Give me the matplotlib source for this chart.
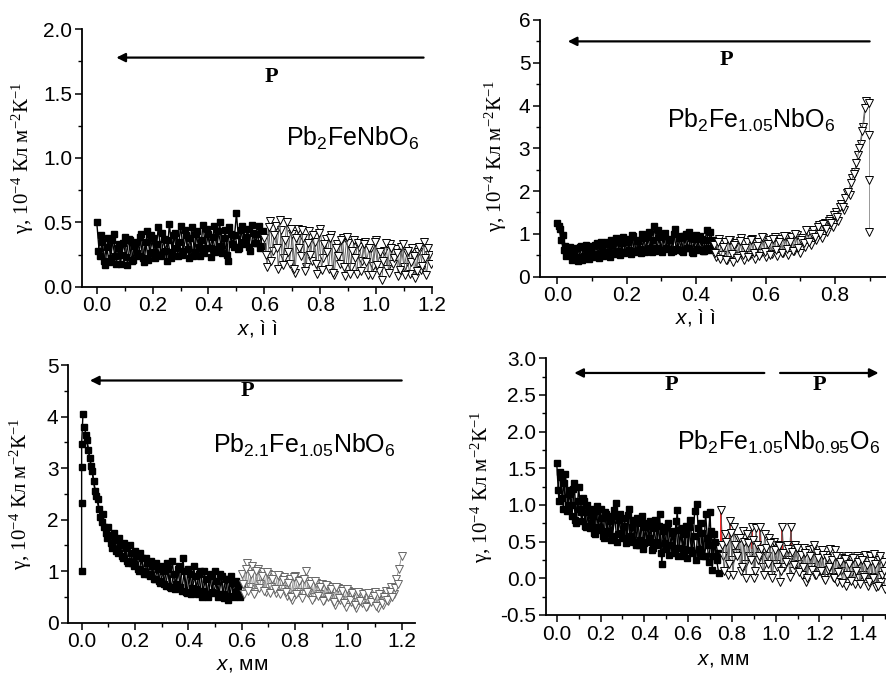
import numpy as np
import matplotlib
matplotlib.use("Agg")
import matplotlib.pyplot as plt
from matplotlib.ticker import MultipleLocator, FormatStrFormatter

plt.rcParams['font.family'] = ['Liberation Sans', 'DejaVu Sans']
plt.rcParams['mathtext.fontset'] = 'custom'
plt.rcParams['mathtext.rm'] = 'Liberation Serif'
plt.rcParams['mathtext.it'] = 'Liberation Sans:italic'
plt.rcParams['mathtext.sf'] = 'Liberation Sans'
plt.rcParams['axes.unicode_minus'] = False

# ---- panel 1: Pb2FeNbO6 ----
# two passes of the scan, interleaved in x
sq1_x = np.linspace(0.0, 0.59, 60)
sq1_y = [0.50, 0.24, 0.35, 0.17, 0.38, 0.22, 0.41, 0.18, 0.33, 0.25,
         0.39, 0.17, 0.36, 0.21, 0.35, 0.24, 0.41, 0.19, 0.43, 0.26,
         0.38, 0.22, 0.46, 0.25, 0.37, 0.20, 0.49, 0.27, 0.42, 0.24,
         0.47, 0.28, 0.40, 0.22, 0.46, 0.27, 0.43, 0.24, 0.48, 0.30,
         0.41, 0.23, 0.47, 0.29, 0.50, 0.26, 0.44, 0.20, 0.41, 0.31,
         0.57, 0.30, 0.47, 0.33, 0.45, 0.28, 0.42, 0.34, 0.47, 0.32]
sq1b_x = np.linspace(0.005, 0.595, 60)
sq1b_y = [0.28, 0.40, 0.20, 0.31, 0.19, 0.36, 0.24, 0.30, 0.18, 0.34,
          0.23, 0.37, 0.20, 0.32, 0.26, 0.39, 0.22, 0.35, 0.21, 0.40,
          0.27, 0.33, 0.24, 0.42, 0.28, 0.36, 0.22, 0.40, 0.30, 0.35,
          0.25, 0.44, 0.29, 0.38, 0.24, 0.41, 0.31, 0.36, 0.26, 0.45,
          0.30, 0.39, 0.27, 0.43, 0.32, 0.38, 0.25, 0.46, 0.33, 0.40,
          0.29, 0.44, 0.35, 0.39, 0.31, 0.48, 0.34, 0.41, 0.30, 0.43]
tr1_x = np.linspace(0.60, 1.19, 60)
tr1_y = [0.38, 0.15, 0.51, 0.28, 0.47, 0.14, 0.44, 0.22, 0.50, 0.18,
         0.41, 0.11, 0.45, 0.24, 0.38, 0.15, 0.43, 0.20, 0.35, 0.10,
         0.45, 0.22, 0.37, 0.14, 0.40, 0.09, 0.33, 0.18, 0.38, 0.08,
         0.34, 0.15, 0.36, 0.10, 0.31, 0.20, 0.35, 0.09, 0.30, 0.16,
         0.36, 0.12, 0.05, 0.28, 0.14, 0.33, 0.18, 0.29, 0.08, 0.31,
         0.15, 0.26, 0.10, 0.30, 0.07, 0.27, 0.13, 0.35, 0.09, 0.25]
tr1b_x = np.linspace(0.605, 1.195, 60)
tr1b_y = [0.25, 0.46, 0.20, 0.40, 0.30, 0.52, 0.17, 0.36, 0.27, 0.45,
          0.14, 0.38, 0.30, 0.44, 0.12, 0.34, 0.25, 0.40, 0.18, 0.42,
          0.13, 0.33, 0.27, 0.38, 0.11, 0.30, 0.24, 0.36, 0.15, 0.39,
          0.10, 0.28, 0.22, 0.34, 0.12, 0.33, 0.19, 0.30, 0.09, 0.35,
          0.17, 0.27, 0.20, 0.34, 0.11, 0.30, 0.22, 0.26, 0.13, 0.33,
          0.09, 0.28, 0.19, 0.24, 0.12, 0.31, 0.16, 0.22, 0.30, 0.18]

# ---- panel 2: Pb2Fe1.05NbO6 ----
sq2_x = np.linspace(0.0, 0.445, 60)
sq2_y = [1.25, 1.12, 0.98, 0.72, 0.55, 0.70, 0.45, 0.68, 0.36, 0.72,
         0.48, 0.75, 0.42, 0.66, 0.50, 0.78, 0.44, 0.70, 0.52, 0.80,
         0.47, 0.74, 0.55, 0.85, 0.50, 0.92, 0.57, 0.80, 0.53, 0.95,
         0.60, 0.84, 0.56, 0.90, 0.62, 1.05, 0.58, 1.18, 0.66, 0.92,
         0.57, 1.02, 0.64, 0.88, 0.60, 1.12, 0.63, 0.95, 0.58, 1.00,
         0.66, 0.90, 0.56, 0.98, 0.62, 0.87, 0.59, 1.10, 0.63, 0.85]
sq2b_x = np.linspace(0.0037, 0.4487, 60)
sq2b_y = [1.18, 0.85, 0.62, 0.48, 0.65, 0.38, 0.60, 0.45, 0.70, 0.40,
          0.66, 0.52, 0.72, 0.46, 0.74, 0.54, 0.82, 0.49, 0.76, 0.58,
          0.86, 0.52, 0.90, 0.60, 0.78, 0.55, 0.88, 0.62, 0.98, 0.57,
          0.86, 0.64, 1.00, 0.58, 0.92, 0.66, 0.85, 0.60, 1.08, 0.63,
          0.94, 0.68, 0.86, 0.58, 1.00, 0.65, 0.90, 0.60, 0.96, 0.68,
          1.05, 0.57, 0.88, 0.64, 0.95, 0.60, 0.86, 0.66, 1.05, 0.70]
tr2_x = np.linspace(0.45, 0.89, 56)
tr2_y = [0.75, 0.45, 0.88, 0.50, 0.80, 0.40, 0.85, 0.35, 0.78, 0.48,
         0.90, 0.40, 0.82, 0.50, 0.88, 0.42, 0.80, 0.55, 0.90, 0.45,
         0.85, 0.52, 0.93, 0.48, 0.88, 0.55, 0.95, 0.50, 0.92, 0.60,
         0.98, 0.55, 0.90, 0.70, 1.05, 0.75, 1.10, 0.85, 1.20, 0.90,
         1.25, 1.05, 1.35, 1.15, 1.50, 1.30, 1.70, 1.55, 1.95, 1.90,
         2.30, 2.45, 2.85, 3.10, 3.50, 4.10]
tr2b_x = np.linspace(0.454, 0.886, 55)
tr2b_y = [0.55, 0.82, 0.42, 0.70, 0.38, 0.86, 0.52, 0.75, 0.44, 0.83,
          0.50, 0.68, 0.45, 0.86, 0.55, 0.72, 0.48, 0.92, 0.58, 0.76,
          0.50, 0.88, 0.62, 0.80, 0.55, 0.96, 0.65, 0.82, 0.60, 1.00,
          0.68, 0.85, 0.78, 1.08, 0.82, 1.00, 0.92, 1.15, 1.00, 1.22,
          1.12, 1.30, 1.25, 1.45, 1.40, 1.62, 1.62, 1.85, 1.98, 2.20,
          2.40, 2.65, 3.00, 3.40, 3.95]
tr2_tail_x = [0.897, 0.897, 0.897, 0.897]
tr2_tail_y = [4.05, 3.30, 2.25, 1.05]

# ---- panel 3: Pb2.1Fe1.05NbO6 ----
sq3_head_x = [0.0, 0.0, 0.0, 0.0, 0.005]
sq3_head_y = [1.00, 2.33, 3.03, 3.47, 4.05]
sq3_x = np.linspace(0.01, 0.60, 60)
sq3_y = [3.80, 3.55, 3.20, 2.95, 2.55, 2.40, 2.05, 2.10, 1.75, 1.85,
         1.55, 1.75, 1.40, 1.65, 1.30, 1.55, 1.20, 1.50, 1.15, 1.40,
         1.05, 1.35, 1.00, 1.25, 0.95, 1.20, 0.85, 1.15, 0.80, 1.10,
         0.75, 1.15, 0.70, 1.20, 0.65, 1.05, 0.70, 1.25, 0.60, 1.05,
         0.55, 1.10, 0.65, 0.95, 0.50, 1.00, 0.55, 0.90, 0.60, 1.00,
         0.50, 0.95, 0.55, 0.85, 0.45, 0.90, 0.50, 0.80, 0.55, 0.75]
sq3b_x = np.linspace(0.015, 0.595, 59)
sq3b_y = [3.65, 3.35, 3.05, 2.75, 2.45, 2.20, 1.95, 1.85, 1.65, 1.70,
          1.45, 1.60, 1.35, 1.50, 1.25, 1.45, 1.15, 1.35, 1.10, 1.30,
          1.00, 1.25, 0.95, 1.15, 0.90, 1.10, 0.85, 1.05, 0.78, 1.00,
          0.72, 1.05, 0.68, 0.95, 0.75, 1.10, 0.62, 1.00, 0.58, 0.95,
          0.68, 0.90, 0.55, 1.00, 0.62, 0.85, 0.50, 0.95, 0.58, 0.80,
          0.55, 0.90, 0.48, 0.85, 0.52, 0.78, 0.60, 0.72, 0.50]
tr3_x = np.linspace(0.60, 1.20, 61)
tr3_y = [0.95, 0.55, 1.15, 0.70, 1.10, 0.60, 1.05, 0.75, 0.98, 0.60,
         0.95, 0.70, 0.92, 0.58, 0.90, 0.65, 0.88, 0.52, 0.85, 0.45,
         0.90, 0.60, 0.82, 0.55, 1.00, 0.58, 0.80, 0.50, 0.78, 0.55,
         0.75, 0.45, 0.72, 0.52, 0.70, 0.35, 0.68, 0.45, 0.65, 0.30,
         0.62, 0.40, 0.60, 0.28, 0.58, 0.38, 0.55, 0.32, 0.52, 0.45,
         0.60, 0.28, 0.55, 0.35, 0.62, 0.42, 0.70, 0.55, 0.85, 1.05,
         1.30]
tr3b_x = np.linspace(0.605, 1.185, 59)
tr3b_y = [0.75, 1.05, 0.62, 0.95, 0.55, 1.00, 0.68, 0.90, 0.62, 0.98,
          0.58, 0.85, 0.65, 0.92, 0.55, 0.82, 0.60, 0.78, 0.50, 0.88,
          0.55, 0.80, 0.48, 0.85, 0.60, 0.75, 0.45, 0.80, 0.52, 0.70,
          0.42, 0.74, 0.50, 0.66, 0.40, 0.70, 0.48, 0.62, 0.38, 0.66,
          0.45, 0.58, 0.35, 0.60, 0.42, 0.55, 0.30, 0.58, 0.40, 0.52,
          0.32, 0.56, 0.38, 0.50, 0.45, 0.60, 0.50, 0.68, 0.75]

# ---- panel 4: Pb2Fe1.05Nb0.95O6 ----
sq4_x = np.linspace(0.0, 0.74, 75)
sq4_y = [1.57, 1.05, 1.38, 0.95, 1.42, 1.00, 1.20, 0.85, 1.30, 0.75,
         1.25, 0.90, 1.10, 0.72, 1.00, 0.68, 0.95, 0.62, 0.92, 0.70,
         0.95, 0.58, 0.90, 0.65, 0.85, 0.52, 0.93, 1.03, 0.60, 0.88,
         0.55, 0.82, 0.50, 0.95, 0.58, 0.80, 0.45, 0.78, 0.52, 0.85,
         0.48, 0.75, 0.55, 0.72, 0.42, 0.80, 0.50, 0.88, 0.20, 0.70,
         0.40, 0.75, 0.45, 0.65, 0.35, 0.93, 0.42, 0.68, 0.30, 0.72,
         0.38, 0.80, 0.35, 0.92, 1.02, 0.40, 0.75, 0.30, 0.88, 0.45,
         0.90, 0.12, 0.60, 0.25, 0.07]
sq4b_x = np.linspace(0.005, 0.735, 74)
sq4b_y = [1.20, 1.45, 1.10, 1.30, 0.92, 1.15, 1.00, 1.22, 0.80, 1.05,
          0.95, 0.78, 1.05, 0.70, 0.90, 0.75, 0.85, 0.60, 0.98, 0.66,
          0.82, 0.55, 0.88, 0.62, 0.78, 0.58, 0.85, 0.50, 0.80, 0.62,
          0.72, 0.48, 0.86, 0.55, 0.70, 0.50, 0.82, 0.45, 0.75, 0.40,
          0.70, 0.50, 0.78, 0.38, 0.68, 0.45, 0.72, 0.35, 0.65, 0.48,
          0.70, 0.32, 0.62, 0.42, 0.78, 0.30, 0.66, 0.40, 0.60, 0.28,
          0.70, 0.38, 0.58, 0.25, 0.68, 0.35, 0.62, 0.30, 0.55, 0.22,
          0.65, 0.30, 0.50, 0.35]
tr4_x = np.linspace(0.75, 1.50, 76)
tr4_y = [0.93, 0.30, 0.60, 0.05, 0.78, 0.25, 0.70, 0.35, 0.55, 0.10,
         0.65, 0.20, 0.60, 0.30, 0.70, 0.00, 0.68, 0.25, 0.70, 0.15,
         0.60, 0.30, 0.55, 0.05, 0.50, 0.20, 0.45, -0.05, 0.70, 0.15,
         0.45, 0.25, 0.70, 0.10, 0.45, 0.20, 0.40, 0.05, 0.42, -0.05,
         0.38, 0.15, 0.40, 0.05, 0.35, 0.10, 0.38, 0.00, 0.32, 0.12,
         0.40, 0.02, 0.38, -0.05, 0.30, 0.10, 0.28, -0.10, 0.30, 0.05,
         0.25, -0.08, 0.30, 0.00, 0.28, 0.05, 0.32, -0.10, 0.30, 0.02,
         0.33, -0.12, 0.25, -0.05, 0.22, -0.15]
tr4b_x = np.linspace(0.755, 1.495, 75)
tr4b_y = [0.45, 0.10, 0.50, 0.20, 0.62, 0.05, 0.45, 0.30, 0.55, 0.15,
          0.50, 0.00, 0.48, 0.25, 0.52, 0.10, 0.45, 0.30, 0.40, 0.05,
          0.42, 0.20, 0.48, 0.00, 0.38, 0.15, 0.44, 0.10, 0.35, 0.22,
          0.40, 0.02, 0.36, 0.18, 0.42, 0.08, 0.32, 0.15, 0.35, 0.00,
          0.30, 0.12, 0.45, 0.05, 0.28, 0.10, 0.32, -0.02, 0.28, 0.15,
          0.25, 0.00, 0.30, 0.08, 0.22, -0.06, 0.26, 0.05, 0.20, -0.04,
          0.28, 0.10, 0.22, -0.08, 0.25, 0.02, 0.18, -0.05, 0.24, 0.00,
          0.20, -0.10, 0.30, 0.05, 0.10]
# red error bars on a few triangles
err4_x = [0.75, 0.79, 0.89, 0.93, 1.03, 1.07]
err4_top = [0.93, 0.78, 0.70, 0.70, 0.70, 0.70]
err4_len = [0.45, 0.25, 0.30, 0.25, 0.30, 0.30]


def draw_panel(ax, xlim, ylim, ymajor, yfmt):
    ax.set_xlim(*xlim)
    ax.set_ylim(*ylim)
    ax.spines['top'].set_visible(False)
    ax.spines['right'].set_visible(False)
    for s in ['left', 'bottom']:
        ax.spines[s].set_linewidth(1.3)
    ax.xaxis.set_major_locator(MultipleLocator(0.2))
    ax.xaxis.set_minor_locator(MultipleLocator(0.1))
    ax.xaxis.set_major_formatter(FormatStrFormatter('%.1f'))
    ax.yaxis.set_major_locator(MultipleLocator(ymajor))
    ax.yaxis.set_minor_locator(MultipleLocator(ymajor / 2))
    ax.yaxis.set_major_formatter(FormatStrFormatter(yfmt))
    ax.tick_params(which='major', direction='out', length=5, width=1.1,
                   labelsize=15, pad=2)
    ax.tick_params(which='minor', direction='out', length=3, width=1.0)
    ax.set_ylabel('γ, 10$^{-4}$ Кл м$^{-2}$К$^{-1}$',
                  family=['Liberation Serif', 'DejaVu Serif'], fontsize=15)


def squares(ax, x, y):
    ax.plot(x, y, '-s', color='black', lw=1.0, ms=4.2, mfc='black',
            mec='black', zorder=3)


def triangles(ax, x, y, edge='black', line='#555555'):
    ax.plot(x, y, '-v', color=line, lw=0.6, ms=5.5, mfc='white',
            mec=edge, mew=0.7, zorder=4)


def arrow(ax, x0, x1, y):
    ax.annotate('', xy=(x1, y), xytext=(x0, y),
                arrowprops=dict(arrowstyle='-|>', color='black', lw=1.6,
                                mutation_scale=13, shrinkA=0, shrinkB=0))


def ptext(ax, x, y):
    ax.text(x, y, 'P', family='Liberation Serif', weight='bold',
            fontsize=16, ha='center', va='center')


fig = plt.figure(figsize=(8.87, 6.73), dpi=100)

# panel 1
ax1 = fig.add_axes([0.0924, 0.574, 0.3946, 0.3825])
draw_panel(ax1, (-0.053, 1.2), (0, 2.0), 0.5, '%.1f')
squares(ax1, sq1_x, sq1_y)
squares(ax1, sq1b_x, sq1b_y)
triangles(ax1, tr1_x, tr1_y)
triangles(ax1, tr1b_x, tr1b_y)
arrow(ax1, 1.17, 0.07, 1.78)
ptext(ax1, 0.625, 1.63)
ax1.text(0.677, 1.15, 'Pb$_\\mathsf{2}$FeNbO$_\\mathsf{6}$', fontsize=18,
         va='center')
ax1.set_xlabel('$\\mathit{x}$, ì ì', fontsize=15)
ax1.xaxis.set_label_coords(0.5, -0.12)
ax1.yaxis.set_label_coords(-0.13, 0.5)

# panel 2
ax2 = fig.add_axes([0.6088, 0.5889, 0.3912, 0.3814])
draw_panel(ax2, (-0.05, 0.95), (0, 6), 1, '%d')
squares(ax2, sq2_x, sq2_y)
squares(ax2, sq2b_x, sq2b_y)
triangles(ax2, tr2_x, tr2_y)
triangles(ax2, tr2b_x, tr2b_y)
triangles(ax2, tr2_tail_x, tr2_tail_y, line='#888888')
arrow(ax2, 0.90, 0.03, 5.5)
ptext(ax2, 0.487, 5.06)
ax2.text(0.315, 3.66, 'Pb$_\\mathsf{2}$Fe$_\\mathsf{1.05}$NbO$_\\mathsf{6}$',
         fontsize=18, va='center')
ax2.set_xlabel('$\\mathit{x}$, ì ì', fontsize=15)
ax2.xaxis.set_label_coords(0.447, -0.12)
ax2.yaxis.set_label_coords(-0.09, 0.47)

# panel 3
ax3 = fig.add_axes([0.0770, 0.0747, 0.3909, 0.3829])
draw_panel(ax3, (-0.05, 1.25), (0, 5), 1, '%d')
squares(ax3, sq3_head_x, sq3_head_y)
squares(ax3, sq3_x, sq3_y)
squares(ax3, sq3b_x, sq3b_y)
triangles(ax3, tr3_x, tr3_y, edge='#666666', line='#888888')
triangles(ax3, tr3b_x, tr3b_y, edge='#666666', line='#888888')
arrow(ax3, 1.2, 0.031, 4.7)
ptext(ax3, 0.622, 4.5)
ax3.text(0.494, 3.45, 'Pb$_\\mathsf{2.1}$Fe$_\\mathsf{1.05}$NbO$_\\mathsf{6}$',
         fontsize=18, va='center')
ax3.set_xlabel('$\\mathit{x}$, мм', fontsize=15)
ax3.xaxis.set_label_coords(0.5, -0.125)
ax3.yaxis.set_label_coords(-0.1, 0.5)

# panel 4
ax4 = fig.add_axes([0.6153, 0.0862, 0.395, 0.3814])
draw_panel(ax4, (-0.05, 1.55), (-0.5, 3.0), 0.5, '%.1f')
squares(ax4, sq4_x, sq4_y)
squares(ax4, sq4b_x, sq4b_y)
ax4.vlines(err4_x, np.array(err4_top) - np.array(err4_len), err4_top,
           color='red', lw=1.2, zorder=3.5)
triangles(ax4, tr4_x, tr4_y)
triangles(ax4, tr4b_x, tr4b_y)
arrow(ax4, 0.948, 0.08, 2.8)
arrow(ax4, 1.02, 1.47, 2.8)
ptext(ax4, 0.525, 2.64)
ptext(ax4, 1.2, 2.64)
ax4.text(0.547, 1.86,
         'Pb$_\\mathsf{2}$Fe$_\\mathsf{1.05}$Nb$_\\mathsf{0.95}$O$_\\mathsf{6}$',
         fontsize=18, va='center')
ax4.set_xlabel('$\\mathit{x}$, мм', fontsize=15)
ax4.xaxis.set_label_coords(0.506, -0.135)
ax4.yaxis.set_label_coords(-0.145, 0.5)

fig.savefig('out.png', dpi=100)
